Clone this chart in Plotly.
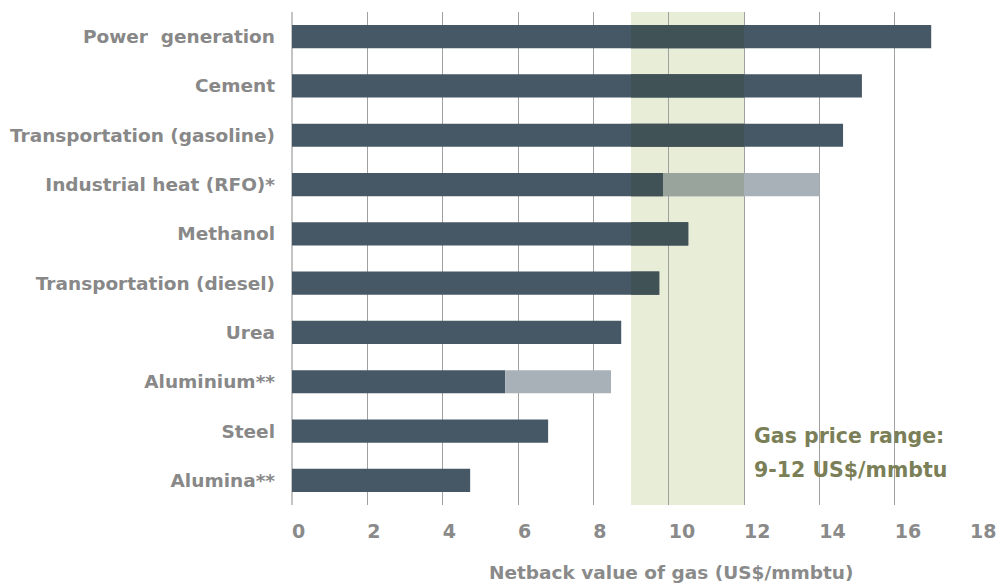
import plotly.graph_objects as go

# Netback value of gas by end use (US$/mmbtu)
sectors = [
    "Power  generation",
    "Cement",
    "Transportation (gasoline)",
    "Industrial heat (RFO)*",
    "Methanol",
    "Transportation (diesel)",
    "Urea",
    "Aluminium**",
    "Steel",
    "Alumina**",
]
netback_low = [16.97, 15.13, 14.63, 9.85, 10.52, 9.75, 8.74, 5.66, 6.80, 4.73]
netback_high = [None, None, None, 14.01, None, None, None, 8.47, None, None]

gas_price_range = [9, 12]
x_ticks = [0, 2, 4, 6, 8, 10, 12, 14, 16, 18]

DARK = (70, 88, 102)
LIGHT = (168, 176, 184)
BAND = (232, 237, 216)
FONT = "DejaVu Sans"


def rgb(c):
    return "rgb(%d,%d,%d)" % c


def multiply(c1, c2):
    return tuple(round(a * b / 255) for a, b in zip(c1, c2))


fig = go.Figure()

# range segment on top of the low estimate
hi_base = [lo if hi is not None else None for lo, hi in zip(netback_low, netback_high)]
hi_len = [hi - lo if hi is not None else None for lo, hi in zip(netback_low, netback_high)]

fig.add_trace(go.Bar(y=sectors, x=netback_low, base=[0] * len(sectors), orientation="h",
                     marker=dict(color=rgb(DARK), line=dict(width=0)), width=0.47,
                     hoverinfo="skip"))
fig.add_trace(go.Bar(y=sectors, x=hi_len, base=hi_base, orientation="h",
                     marker=dict(color=rgb(LIGHT), line=dict(width=0)), width=0.47,
                     hoverinfo="skip"))


# parts of the bars lying inside the price band are tinted by the band
def clip(starts, ends):
    b, w = [], []
    for s, e in zip(starts, ends):
        if s is None or e is None:
            b.append(None); w.append(None); continue
        s2, e2 = max(s, gas_price_range[0]), min(e, gas_price_range[1])
        if e2 > s2:
            b.append(s2); w.append(e2 - s2)
        else:
            b.append(None); w.append(None)
    return b, w


ob, ow = clip([0] * len(sectors), netback_low)
fig.add_trace(go.Bar(y=sectors, x=ow, base=ob, orientation="h",
                     marker=dict(color=rgb(multiply(DARK, BAND)), line=dict(width=0)),
                     width=0.47, hoverinfo="skip"))
ob, ow = clip(netback_low, netback_high)
fig.add_trace(go.Bar(y=sectors, x=ow, base=ob, orientation="h",
                     marker=dict(color=rgb(multiply(LIGHT, BAND)), line=dict(width=0)),
                     width=0.47, hoverinfo="skip"))

fig.add_shape(type="rect", xref="x", yref="paper",
              x0=gas_price_range[0], x1=gas_price_range[1], y0=0, y1=1,
              fillcolor=rgb(BAND), line=dict(width=0), layer="below")

band_font = dict(family=FONT, size=20.5, color="#7B7F57", weight="bold")
fig.add_annotation(xref="x", yref="paper", x=12.22, y=0.140,
                   xanchor="left", yanchor="middle", showarrow=False,
                   text="Gas price range:", font=band_font)
fig.add_annotation(xref="x", yref="paper", x=12.22, y=0.071,
                   xanchor="left", yanchor="middle", showarrow=False,
                   text="%d-%d US$/mmbtu" % tuple(gas_price_range), font=band_font)

fig.add_annotation(xref="paper", yref="paper", x=0.559, y=-0.136,
                   xanchor="center", yanchor="middle", showarrow=False,
                   text="Netback value of gas (US$/mmbtu)",
                   font=dict(family=FONT, size=18.5, color="#8A8A8A", weight="bold"))

fig.update_layout(
    width=1000, height=586,
    margin=dict(l=292, r=30, t=12, b=81, autoexpand=False),
    paper_bgcolor="white", plot_bgcolor="white",
    barmode="overlay", showlegend=False,
    xaxis=dict(range=[0, 18], tickvals=x_ticks, showgrid=True, gridcolor="#A0A0A0",
               gridwidth=1, zeroline=True, zerolinecolor="#C4C4C4", zerolinewidth=2,
               ticklabelposition="outside right", ticklabelstandoff=13,
               tickfont=dict(family=FONT, size=19, color="#8A8A8A", weight="bold"),
               showline=False, fixedrange=True, automargin=False),
    yaxis=dict(categoryorder="array", categoryarray=sectors, autorange="reversed",
               showgrid=False, zeroline=False, showline=False, ticks="",
               ticklabelstandoff=16,
               tickfont=dict(family=FONT, size=18.5, color="#888888", weight="bold"),
               fixedrange=True, automargin=False),
)

fig.write_html("out.html")
